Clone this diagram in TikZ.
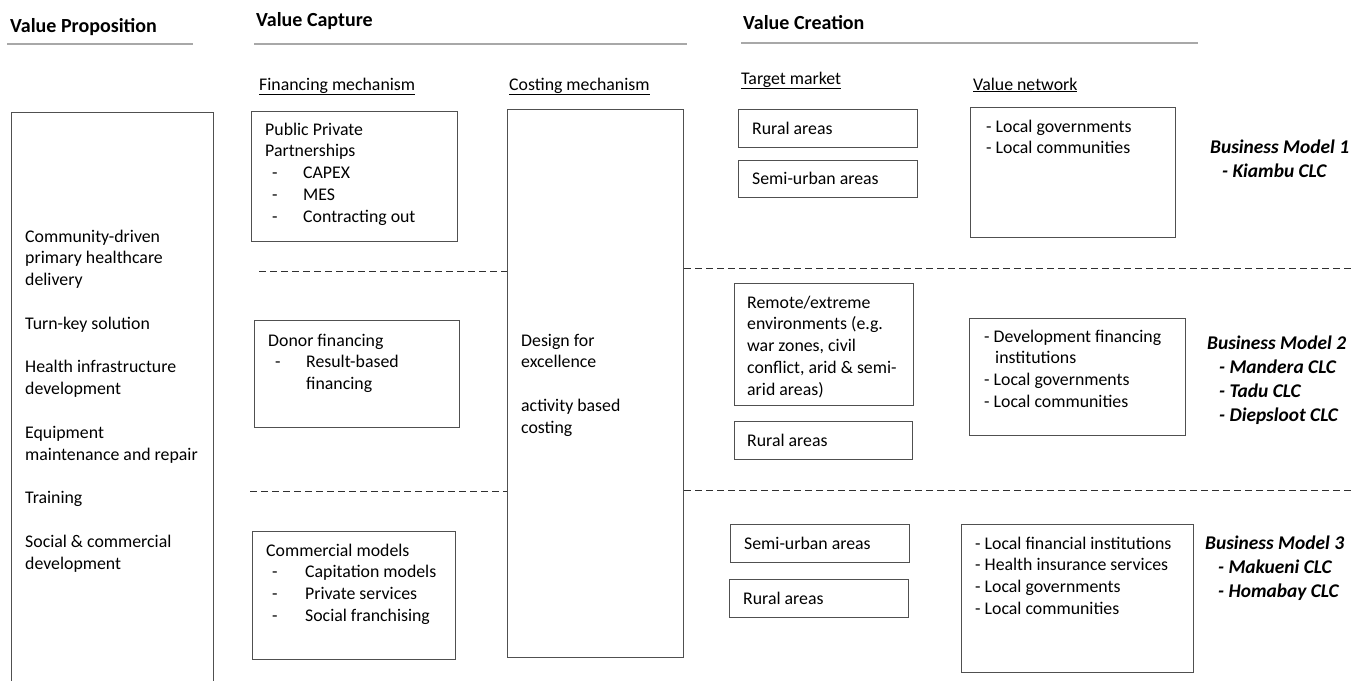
\documentclass[tikz,border=0pt]{standalone}
\usepackage{fontspec}
\setmainfont{Carlito}
\definecolor{boxgray}{HTML}{505050}
\definecolor{rulegray}{HTML}{A8A8A8}
\definecolor{sepgray}{HTML}{303030}
\newcommand\fs{\fontsize{17.8}{21.8}\selectfont}
\newcommand\fshd{\fontsize{20}{24}\selectfont}
\newcommand\fsbm{\fontsize{19.4}{24}\selectfont}
\newcommand\itm[2]{\hspace*{#1}\makebox[#2][l]{-}}
\newcommand\blk[2]{\parbox[t]{#1}{\raggedright #2}}
\tikzset{
  box/.style={draw=boxgray, line width=1pt, inner sep=0pt, anchor=north west},
  txt/.style={inner sep=0pt, anchor=base west, font=\fs, text=black},
  hdr/.style={txt, font=\fshd\bfseries},
  bm/.style={txt, font=\fsbm\bfseries\itshape},
  sep/.style={draw=sepgray, dash pattern=on 6.5pt off 4.5pt, line width=0.9pt},
  hline/.style={draw=rulegray, line width=1.3pt},
}
\begin{document}
\begin{tikzpicture}[x=1pt,y=-1pt]
\useasboundingbox (0,0) rectangle (1354,680);
% headers
\node[hdr] (hVP) at (10,32) {Value Proposition};
\coordinate (vpL1) at (7,44); \coordinate (vpL2) at (193,44);
\draw[hline] (vpL1) -- (vpL2);
\node[hdr] (hVCap) at (256,27) {Value Capture};
\coordinate (vcL1) at (254,44); \coordinate (vcL2) at (687,44);
\draw[hline] (vcL1) -- (vcL2);
\node[hdr] (hVCr) at (743,29) {Value Creation};
\coordinate (crL1) at (741,43); \coordinate (crL2) at (1198,43);
\draw[hline] (crL1) -- (crL2);
% sub headers
\node[txt] (sFin) at (259,90) {\underline{Financing mechanism}};
\node[txt] (sCost) at (509,90) {\underline{Costing mechanism}};
\node[txt] (sTM) at (741,84) {\underline{Target market}};
\node[txt] (sVN) at (973,90) {\underline{Value network}};
% boxes
\node[box, minimum width=202pt, minimum height=575pt] (vp) at (11,112) {};
\node[box, minimum width=206pt, minimum height=130pt] (ppp) at (251,111) {};
\node[box, minimum width=205pt, minimum height=107pt] (donor) at (254,320) {};
\node[box, minimum width=203pt, minimum height=128pt] (comm) at (252,531) {};
\node[box, minimum width=176pt, minimum height=548pt] (cost) at (507,109) {};
\node[box, minimum width=179pt, minimum height=38pt] (tm1) at (738,109) {};
\node[box, minimum width=179pt, minimum height=37pt] (tm2) at (738,160) {};
\node[box, minimum width=179pt, minimum height=122pt] (tm3) at (734,283) {};
\node[box, minimum width=178pt, minimum height=38pt] (tm4) at (734,421) {};
\node[box, minimum width=179pt, minimum height=38pt] (tm5) at (730,524) {};
\node[box, minimum width=179pt, minimum height=38pt] (tm6) at (729,579) {};
\node[box, minimum width=205pt, minimum height=130pt] (vn1) at (970,107) {};
\node[box, minimum width=216pt, minimum height=117pt] (vn2) at (969,318) {};
\node[box, minimum width=232pt, minimum height=148pt] (vn3) at (961,524) {};
% texts
\node[txt] (vpT) at (25,242) {\blk{185pt}{Community-driven\\ primary healthcare\\ delivery\\[21.8pt] Turn-key solution\\[21.8pt] Health infrastructure\\ development\\[21.8pt] Equipment\\ maintenance and repair\\[21.8pt] Training\\[21.8pt] Social \& commercial\\ development}};
\node[txt] (pppT) at (265,135) {\blk{190pt}{Public Private\\ Partnerships\\ \itm{7pt}{31pt}CAPEX\\ \itm{7pt}{31pt}MES\\ \itm{7pt}{31pt}Contracting out}};
\node[txt] (donorT) at (268,346) {\blk{190pt}{Donor financing\\ \itm{7pt}{31pt}Result-based\\ \hspace*{38pt}financing}};
\node[txt] (commT) at (266,556) {\blk{190pt}{Commercial models\\ \itm{6pt}{33pt}Capitation models\\ \itm{6pt}{33pt}Private services\\ \itm{6pt}{33pt}Social franchising}};
\node[txt] (costT) at (521,346) {\blk{160pt}{Design for\\ excellence\\[21.8pt] activity based\\ costing}};
\node[txt] (tm1T) at (752,134) {Rural areas};
\node[txt] (tm2T) at (752,184) {Semi-urban areas};
\node[txt] (tm3T) at (747,308) {\blk{170pt}{Remote/extreme\\ environments (e.g.\\ war zones, civil\\ conflict, arid \& semi-\\ arid areas)}};
\node[txt] (tm4T) at (747,446) {Rural areas};
\node[txt] (tm5T) at (744,549) {Semi-urban areas};
\node[txt] (tm6T) at (743,604) {Rural areas};
\node[txt] (vn1T) at (986,132) {\blk{200pt}{- Local governments\\ - Local communities}};
\node[txt] (vn2T) at (984,342) {\blk{210pt}{- Development financing\\ \hspace*{11pt}institutions\\ - Local governments\\ - Local communities}};
\node[txt] (vn3T) at (975,549) {\blk{230pt}{- Local financial institutions\\ - Health insurance services\\ - Local governments\\ - Local communities}};
\node[bm] (bm1) at (1210,153) {\blk{150pt}{Business Model 1\\ \hspace*{12pt}- Kiambu CLC}};
\node[bm] (bm2) at (1207,349) {\blk{150pt}{Business Model 2\\ \hspace*{12pt}- Mandera CLC\\ \hspace*{12pt}- Tadu CLC\\ \hspace*{12pt}- Diepsloot CLC}};
\node[bm] (bm3) at (1205,549) {\blk{150pt}{Business Model 3\\ \hspace*{13pt}- Makueni CLC\\ \hspace*{13pt}- Homabay CLC}};
% dashed separators
\coordinate (d1a) at (259,271); \coordinate (d1b) at (1354,268);
\coordinate (d2a) at (250,491); \coordinate (d2b) at (1354,490);
\draw[sep] (d1a) -- (cost.west |- d1a);
\draw[sep] (cost.east |- d1b) -- (d1b);
\draw[sep] (d2a) -- (cost.west |- d2a);
\draw[sep] (cost.east |- d2b) -- (d2b);
\end{tikzpicture}
\end{document}
